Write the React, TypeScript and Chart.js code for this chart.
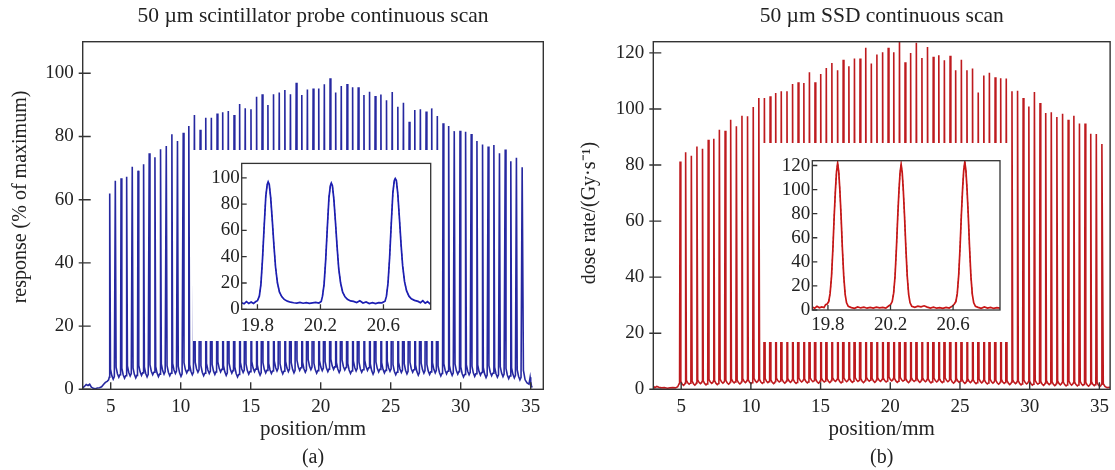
import React, { useEffect, useRef } from "react";
import { Chart, registerables } from "chart.js";
Chart.register(...registerables);

const SERIF = "'Liberation Serif', 'Times New Roman', Times, serif";
const INK = "#222";

// ---------- shared ----------
const xTitle = "position/mm";
const mainXTicks = [5, 10, 15, 20, 25, 30, 35];
const insetXTicks = [19.8, 20.2, 20.6];

// ---------- panel (a) ----------
const aTitle = "50 µm scintillator probe continuous scan";
const aLabel = "(a)";
const aYTitle = "response (% of maximum)";
const aYTicks = [0, 20, 40, 60, 80, 100];
const aPeakPos = [
  4.93, 5.33, 5.74, 6.14, 6.54, 6.95, 7.35, 7.75, 8.16, 8.56,
  8.97, 9.37, 9.77, 10.18, 10.58, 10.98, 11.39, 11.79, 12.19, 12.6,
  13.0, 13.4, 13.81, 14.21, 14.61, 15.02, 15.42, 15.82, 16.23, 16.63,
  17.04, 17.44, 17.84, 18.25, 18.65, 19.05, 19.46, 19.86, 20.26, 20.67,
  21.07, 21.47, 21.88, 22.28, 22.68, 23.09, 23.49, 23.89, 24.3, 24.7,
  25.11, 25.51, 25.91, 26.32, 26.72, 27.12, 27.53, 27.93, 28.33, 28.74,
  29.14, 29.54, 29.95, 30.35, 30.75, 31.16, 31.56, 31.96, 32.37, 32.77,
  33.18, 33.58, 33.98, 34.39,
];
const aPeakHeight = [
  62.0, 66.0, 66.8, 67.3, 70.4, 69.2, 71.2, 74.7, 73.4, 76.0,
  77.0, 80.7, 78.6, 81.2, 83.3, 86.8, 82.1, 85.9, 85.9, 87.3,
  87.7, 88.1, 86.8, 90.3, 88.9, 88.6, 92.6, 93.4, 90.0, 93.4,
  93.9, 94.7, 93.4, 97.0, 93.1, 94.9, 95.2, 95.2, 96.5, 98.4,
  93.9, 96.0, 96.6, 95.6, 95.6, 93.1, 94.2, 92.8, 93.3, 91.5,
  94.1, 89.4, 90.7, 84.7, 88.4, 88.6, 87.9, 88.9, 86.5, 84.2,
  83.3, 81.7, 81.8, 81.5, 80.8, 78.6, 77.5, 76.8, 77.3, 74.7,
  75.9, 72.2, 73.3, 70.3,
];
const aValley = [
  3.2, 3.8, 3.5, 4.2, 3.6, 4.4, 3.9, 4.6, 4.0, 4.8,
  4.3, 5.0, 4.1, 5.2, 4.6, 5.4, 4.3, 5.0, 4.7, 5.5,
  4.4, 5.1, 3.9, 5.3, 4.8, 5.6, 4.5, 5.2, 5.0, 5.8,
  4.9, 5.6, 5.2, 6.0, 5.4, 6.2, 5.1, 5.9, 5.6, 6.3,
  5.3, 6.1, 5.0, 5.8, 5.4, 6.0, 4.8, 5.5, 5.2, 5.7,
  4.6, 5.3, 4.9, 5.4, 4.5, 5.1, 4.7, 5.2, 4.2, 4.9,
  4.4, 4.8, 3.9, 4.6, 4.1, 4.5, 3.7, 4.3, 3.8, 4.0,
  3.4, 3.6, 3.0,
];
const aPreX = [3.0, 3.12, 3.25, 3.38, 3.5, 3.62, 3.75, 3.9, 4.05, 4.2, 4.35, 4.5, 4.62, 4.75, 4.85];
const aPreY = [0.4, 0.9, 1.5, 1.2, 1.6, 0.7, 0.3, 0.2, 0.4, 0.5, 0.8, 1.6, 2.2, 2.5, 3.0];
const aPostX = [34.48, 34.6, 34.74, 34.88, 34.96, 35.0, 35.05, 35.1];
const aPostY = [6.0, 3.0, 2.0, 1.6, 3.8, 2.4, 1.2, 0.6];

// inset (a)
const aInsetYTicks = [0, 20, 40, 60, 80, 100];
const aInsetX = [
  19.7, 19.715, 19.73, 19.745, 19.76, 19.775, 19.79, 19.8,
  19.812, 19.822, 19.832, 19.843, 19.853, 19.862, 19.868, 19.875, 19.884, 19.894, 19.905, 19.915, 19.927, 19.94, 19.955, 19.97, 19.99,
  20.01, 20.03, 20.05, 20.07, 20.09, 20.11, 20.13, 20.15, 20.17, 20.19, 20.205,
  20.213, 20.223, 20.233, 20.244, 20.254, 20.263, 20.269, 20.276, 20.285, 20.295, 20.306, 20.316, 20.328, 20.341, 20.356, 20.371, 20.391,
  20.41, 20.43, 20.45, 20.47, 20.49, 20.51, 20.53, 20.55, 20.57, 20.59, 20.61,
  20.619, 20.629, 20.639, 20.65, 20.66, 20.669, 20.675, 20.682, 20.691, 20.701, 20.712, 20.722, 20.734, 20.747, 20.762, 20.777, 20.797,
  20.82, 20.835, 20.85, 20.865, 20.88, 20.895, 20.9,
];
const aInsetY = [
  5.0, 4.2, 5.8, 4.5, 5.6, 4.4, 5.9, 6.5,
  10, 19, 38, 64, 86, 95, 97, 95, 85, 68, 48, 32, 20, 13, 9.5, 7.5, 6.2,
  5.4, 5.0, 4.7, 5.2, 4.6, 5.0, 4.5, 4.9, 5.3, 4.8, 6.0,
  10, 19, 37, 63, 85, 94, 96, 94, 84, 67, 47, 31, 20, 13, 9.5, 7.6, 6.4,
  6.0, 5.2, 6.5, 4.8, 5.6, 4.4, 5.0, 4.3, 5.1, 4.9, 6.2,
  10, 20, 39, 66, 89, 98, 99.5, 98, 88, 70, 49, 33, 21, 14, 10, 8, 6.8,
  6.0, 5.0, 6.6, 4.6, 5.8, 4.2, 5.0,
];

// ---------- panel (b) ----------
const bTitle = "50 µm SSD continuous scan";
const bLabel = "(b)";
const bYTitle = "dose rate/(Gy·s⁻¹)";
const bYTicks = [0, 20, 40, 60, 80, 100, 120];
const bPeakPos = [
  4.92, 5.32, 5.73, 6.13, 6.53, 6.94, 7.34, 7.74, 8.15, 8.55,
  8.96, 9.36, 9.76, 10.17, 10.57, 10.97, 11.38, 11.78, 12.18, 12.59,
  12.99, 13.39, 13.8, 14.2, 14.6, 15.01, 15.41, 15.81, 16.22, 16.62,
  17.03, 17.43, 17.83, 18.24, 18.64, 19.04, 19.45, 19.85, 20.25, 20.66,
  21.06, 21.46, 21.87, 22.27, 22.67, 23.08, 23.48, 23.88, 24.29, 24.69,
  25.1, 25.5, 25.9, 26.31, 26.71, 27.11, 27.52, 27.92, 28.32, 28.73,
  29.13, 29.53, 29.94, 30.34, 30.74, 31.15, 31.55, 31.95, 32.36, 32.76,
  33.17, 33.57, 33.97, 34.38, 34.78, 35.18,
];
const bPeakHeight = [
  81.3, 84.6, 83.3, 86.6, 85.8, 89.0, 89.4, 92.6, 92.2, 96.2,
  93.8, 97.6, 97.4, 100.7, 103.9, 103.9, 104.5, 105.7, 106.3, 106.3,
  108.9, 109.5, 109.3, 113.1, 109.5, 112.5, 114.6, 116.4, 113.8, 117.6,
  115.2, 118.0, 118.0, 121.8, 116.2, 119.4, 120.2, 121.8, 120.2, 125.5,
  116.7, 120.0, 123.6, 118.2, 122.1, 118.6, 119.2, 117.4, 119.0, 113.8,
  117.6, 113.8, 114.4, 105.9, 111.9, 112.9, 111.3, 111.0, 110.9, 106.3,
  106.5, 103.9, 100.9, 106.1, 102.1, 98.6, 98.8, 97.1, 98.3, 96.2,
  97.6, 94.8, 94.8, 91.2, 91.1, 87.5,
];
const bValley = [
  1.4, 1.8, 1.5, 2.0, 1.6, 2.1, 1.7, 2.2, 1.8, 2.3,
  1.9, 2.4, 2.0, 2.5, 2.1, 2.4, 2.0, 2.6, 2.2, 2.5,
  2.1, 2.6, 2.3, 2.7, 2.2, 2.6, 2.4, 2.8, 2.3, 2.7,
  2.5, 2.8, 2.4, 2.9, 2.5, 2.8, 2.6, 3.0, 2.5, 2.9,
  2.4, 2.8, 2.5, 2.7, 2.3, 2.6, 2.4, 2.7, 2.2, 2.5,
  2.1, 2.4, 2.0, 2.3, 1.9, 2.2, 1.8, 2.1, 1.7, 2.0,
  1.6, 1.9, 1.5, 1.8, 1.4, 1.7, 1.3, 1.6, 1.2, 1.5,
  1.2, 1.4, 1.1, 1.3, 1.0,
];
const bPreX = [3.0, 3.1, 3.25, 3.4, 3.6, 3.8, 4.0, 4.2, 4.4, 4.6, 4.75, 4.85];
const bPreY = [1.2, 0.6, 1.0, 0.7, 0.5, 0.6, 0.4, 0.5, 0.6, 0.5, 0.9, 2.0];
const bPostX = [35.28, 35.4, 35.55, 35.77];
const bPostY = [2.0, 1.0, 0.6, 0.7];

// inset (b)
const bInsetYTicks = [0, 20, 40, 60, 80, 100, 120];
const bInsetX = [
  19.7, 19.715, 19.73, 19.745, 19.76, 19.775, 19.785, 19.795,
  19.805, 19.814, 19.823, 19.832, 19.84, 19.848, 19.855, 19.862, 19.869, 19.876, 19.884, 19.892, 19.901, 19.91, 19.919, 19.93,
  19.95, 19.97, 19.99, 20.01, 20.03, 20.05, 20.07, 20.09, 20.11, 20.13, 20.15, 20.17, 20.19, 20.2,
  20.211, 20.22, 20.229, 20.238, 20.246, 20.254, 20.261, 20.268, 20.275, 20.282, 20.29, 20.298, 20.307, 20.316, 20.325, 20.336,
  20.355, 20.375, 20.395, 20.415, 20.435, 20.455, 20.475, 20.495, 20.515, 20.535, 20.555, 20.575, 20.595, 20.607,
  20.618, 20.627, 20.636, 20.645, 20.653, 20.661, 20.668, 20.675, 20.682, 20.689, 20.697, 20.705, 20.714, 20.723, 20.732, 20.743,
  20.76, 20.78, 20.8, 20.82, 20.84, 20.86, 20.88, 20.9,
];
const bInsetY = [
  2.5, 1.5, 3.0, 1.8, 2.6, 2.0, 4.5, 5.0,
  7, 14, 28, 52, 78, 100, 115, 122, 115, 100, 78, 52, 28, 13, 6, 3,
  2.0, 1.4, 2.6, 1.7, 2.3, 1.5, 2.2, 1.6, 2.4, 1.8, 2.1, 1.5, 3.5, 4.5,
  7, 14, 28, 52, 77, 99, 114, 121, 114, 99, 77, 52, 28, 13, 6, 3,
  2.2, 3.2, 2.6, 3.5, 2.4, 1.6, 2.3, 1.5, 2.0, 1.4, 2.2, 1.6, 3.2, 4.8,
  7, 14, 29, 53, 79, 101, 116, 123, 116, 101, 79, 53, 28, 13, 6, 3,
  2.2, 1.4, 2.5, 1.6, 2.2, 1.3, 2.0, 1.6,
];

// ---------- helpers ----------
type Pt = { x: number; y: number | null };

// spike outline: a narrow rise to each read peak, then a short tail into the read valley level
function buildSpikes(
  preX: number[], preY: number[], pos: number[], hgt: number[], valley: number[],
  postX: number[], postY: number[], tail: number
): Pt[] {
  const pts: Pt[] = [];
  preX.forEach((x, i) => pts.push({ x, y: preY[i] }));
  pos.forEach((c, k) => {
    const prev = k === 0 ? preY[preY.length - 1] : valley[k - 1];
    pts.push({ x: c - 0.035, y: prev + 0.8 });
    pts.push({ x: c, y: hgt[k] });
    if (k < valley.length) {
      const v = valley[k];
      pts.push({ x: c + 0.055, y: v + tail });
      pts.push({ x: c + 0.15, y: v + tail * 0.35 });
      pts.push({ x: c + 0.25, y: v });
      pts.push({ x: c + 0.33, y: v + tail * 0.25 });
    }
  });
  postX.forEach((x, i) => pts.push({ x, y: postY[i] }));
  return pts;
}

// frame box, inward tick marks and (optionally) a rotated y-axis title
const frameTicks = {
  id: "frameTicks",
  afterDatasetsDraw(chart: any, _a: any, o: any) {
    const { ctx, chartArea: a, scales } = chart;
    ctx.save();
    ctx.strokeStyle = o.color;
    ctx.lineWidth = o.width;
    ctx.strokeRect(a.left, a.top, a.right - a.left, a.bottom - a.top);
    ctx.beginPath();
    scales.x.ticks.forEach((t: any) => {
      const px = scales.x.getPixelForValue(t.value);
      ctx.moveTo(px, a.bottom);
      ctx.lineTo(px, a.bottom - o.xLen);
    });
    scales.y.ticks.forEach((t: any) => {
      const py = scales.y.getPixelForValue(t.value);
      ctx.moveTo(a.left - (o.yOut || 0), py);
      ctx.lineTo(a.left + o.yLen, py);
    });
    ctx.stroke();
    if (o.yTitle) {
      ctx.translate(o.yTitleX, o.yTitleY);
      ctx.rotate(-Math.PI / 2);
      ctx.fillStyle = INK;
      ctx.font = `normal 20px ${SERIF}`;
      ctx.textAlign = "center";
      ctx.textBaseline = "middle";
      ctx.fillText(o.yTitle, 0, 0);
    }
    ctx.restore();
  },
};

const tickFont = { family: SERIF, size: 19 };
const titleFont = { family: SERIF, size: 21.5, weight: "normal" as const };
const axisFont = { family: SERIF, size: 21, weight: "normal" as const };
const labelFont = { family: SERIF, size: 20, weight: "normal" as const };

function mainConfig(p: any): any {
  return {
    type: "line",
    data: {
      datasets: [
        {
          data: p.points,
          borderColor: p.color,
          borderWidth: 1.6,
          pointRadius: 0,
          tension: 0,
          fill: false,
        },
      ],
    },
    plugins: [frameTicks],
    options: {
      animation: false,
      responsive: false,
      devicePixelRatio: 1,
      parsing: false,
      normalized: true,
      events: [],
      layout: { padding: { left: 0, right: p.padRight, top: 0, bottom: 0 } },
      plugins: {
        legend: { display: false },
        tooltip: { enabled: false },
        title: {
          display: true, text: p.title, fullSize: false, color: INK,
          font: titleFont, padding: { top: 3, bottom: 12.9 },
        },
        subtitle: {
          display: true, position: "bottom", text: p.label, fullSize: false, color: INK,
          font: labelFont, padding: { top: 0, bottom: 0 },
        },
        frameTicks: {
          color: "#333", width: 1.4, xLen: 7, yLen: 8, yOut: 4,
          yTitle: p.yTitle, yTitleX: p.yTitleX, yTitleY: p.yTitleY,
        },
      },
      scales: {
        x: {
          type: "linear", min: 3, max: p.xMax,
          grid: { display: false, drawTicks: false }, border: { display: false },
          ticks: { padding: 6, color: INK, font: tickFont, autoSkip: false, maxRotation: 0, callback: (v: number) => String(v) },
          afterBuildTicks: (s: any) => { s.ticks = mainXTicks.map((value) => ({ value })); },
          afterFit: (s: any) => { s.height = 56.7; },
          title: { display: true, text: xTitle, color: INK, font: axisFont, padding: { top: 0, bottom: 3.9 } },
        },
        y: {
          type: "linear", min: 0, max: p.yMax,
          grid: { display: false, drawTicks: false }, border: { display: false },
          ticks: { padding: 9, color: INK, font: tickFont, autoSkip: false, callback: (v: number) => String(v) },
          afterBuildTicks: (s: any) => { s.ticks = p.yTicks.map((value: number) => ({ value })); },
          afterFit: (s: any) => { s.width = p.yWidth; },
        },
      },
    },
  };
}

function insetConfig(p: any): any {
  const pts: Pt[] = p.xs.map((x: number, i: number) => ({ x, y: p.ys[i] }));
  const fit: Pt[] = pts.map((q) => ({ x: q.x, y: (q.y as number) >= 6.5 ? q.y : null }));
  return {
    type: "line",
    data: {
      datasets: [
        { data: pts, borderColor: p.color, borderWidth: 1.7, pointRadius: 0, tension: 0, fill: false },
        { data: fit, borderColor: p.fitColor, borderWidth: 0.9, borderDash: [2.5, 2], pointRadius: 0, tension: 0, fill: false, spanGaps: false },
      ],
    },
    plugins: [frameTicks],
    options: {
      animation: false,
      responsive: false,
      devicePixelRatio: 1,
      parsing: false,
      events: [],
      layout: { padding: { left: 0, right: p.padRight, top: p.padTop, bottom: 0 } },
      plugins: {
        legend: { display: false },
        tooltip: { enabled: false },
        frameTicks: { color: "#333", width: 1.3, xLen: 5, yLen: 5, yOut: 0 },
      },
      scales: {
        x: {
          type: "linear", min: 19.7, max: 20.9,
          grid: { display: false, drawTicks: false }, border: { display: false },
          ticks: { padding: p.xPad, color: INK, font: tickFont, autoSkip: false, maxRotation: 0, callback: (v: number) => String(v) },
          afterBuildTicks: (s: any) => { s.ticks = insetXTicks.map((value) => ({ value })); },
          afterFit: (s: any) => { s.height = p.xHeight; },
        },
        y: {
          type: "linear", min: 0, max: p.yMax,
          grid: { display: false, drawTicks: false }, border: { display: false },
          ticks: { padding: 2, color: INK, font: tickFont, autoSkip: false, callback: (v: number) => String(v) },
          afterBuildTicks: (s: any) => { s.ticks = p.yTicks.map((value: number) => ({ value })); },
          afterFit: (s: any) => { s.width = p.yWidth; },
        },
      },
    },
  };
}

function ChartBox({ config, left, top, width, height, bg }: any) {
  const ref = useRef<HTMLCanvasElement | null>(null);
  useEffect(() => {
    if (!ref.current) return;
    const chart = new Chart(ref.current, config);
    return () => chart.destroy();
  }, [config]);
  return (
    <canvas
      ref={ref}
      width={width}
      height={height}
      style={{ position: "absolute", left, top, width, height, background: bg || "transparent" }}
    />
  );
}

const aMain = mainConfig({
  points: buildSpikes(aPreX, aPreY, aPeakPos, aPeakHeight, aValley, aPostX, aPostY, 3.2),
  color: "rgb(38,40,160)", title: aTitle, label: aLabel, yTitle: aYTitle, yTicks: aYTicks,
  yMax: 110, xMax: 35.9, padRight: 13.7, yWidth: 82.7, yTitleX: 21, yTitleY: 197,
});
const bMain = mainConfig({
  points: buildSpikes(bPreX, bPreY, bPeakPos, bPeakHeight, bValley, bPostX, bPostY, 1.4),
  color: "rgb(190,26,30)", title: bTitle, label: bLabel, yTitle: bYTitle, yTicks: bYTicks,
  yMax: 124, xMax: 35.77, padRight: 3, yWidth: 96.3, yTitleX: 33, yTitleY: 213,
});
const aInset = insetConfig({
  xs: aInsetX, ys: aInsetY, color: "rgb(28,30,178)", fitColor: "#1c1c48", yTicks: aInsetYTicks,
  yMax: 111, padRight: 10.3, padTop: 11, xHeight: 31.7, yWidth: 48.7, xPad: 5.3,
});
const bInset = insetConfig({
  xs: bInsetX, ys: bInsetY, color: "rgb(200,22,22)", fitColor: "#3a0c0c", yTicks: bInsetYTicks,
  yMax: 124, padRight: 11, padTop: 17.7, xHeight: 32, yWidth: 49.3, xPad: 3.6,
});

export default function App() {
  return (
    <div style={{ position: "absolute", left: 0, top: 0, width: 1115, height: 470, background: "#fff", overflow: "hidden" }}>
      <ChartBox config={aMain} left={0} top={0} width={557} height={470} />
      <ChartBox config={bMain} left={557} top={0} width={558} height={470} />
      <ChartBox config={aInset} left={193} top={150} width={248} height={191} bg="#fff" />
      <ChartBox config={bInset} left={763} top={143} width={248} height={199} bg="#fff" />
    </div>
  );
}
